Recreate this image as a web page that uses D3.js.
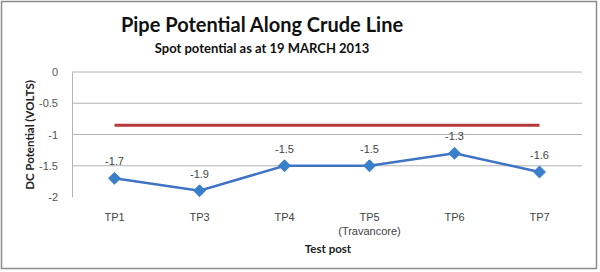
<!DOCTYPE html>
<html>
<head>
<meta charset="utf-8">
<script src="https://cdn.jsdelivr.net/npm/d3@7"></script>
<style>
  body { margin: 0; background: #fff; }
  svg { display: block; font-family: Lato, "Open Sans", sans-serif; }
</style>
</head>
<body>
<svg id="chart"></svg>
<script>
// chart data
const testPosts = ["TP1", "TP3", "TP4", "TP5", "TP6", "TP7"];
const subLabels = ["", "", "", "(Travancore)", "", ""];
const potential = [-1.7, -1.9, -1.5, -1.5, -1.3, -1.6];
const protectionLevel = [-0.85, -0.85, -0.85, -0.85, -0.85, -0.85];
const yTicks = [0, -0.5, -1, -1.5, -2];

const width = 600;
const height = 272;
const margin = { top: 72, right: 18, bottom: 75, left: 72 };

const svg = d3.select('#chart')
  .attr('width', width)
  .attr('height', height);

// outer frame
svg.append('rect')
  .attr('x', 1.5).attr('y', 1.5)
  .attr('width', 595).attr('height', 267)
  .attr('fill', 'none')
  .attr('stroke', '#8c8c8c')
  .attr('stroke-width', 1.5);

const xScale = d3.scaleBand()
  .domain(testPosts)
  .range([margin.left, width - margin.right]);

const yScale = d3.scaleLinear()
  .domain([-2, 0])
  .range([height - margin.bottom, margin.top]);

const cx = d => xScale(d) + xScale.bandwidth() / 2;

// gridlines
svg.append('g')
  .selectAll('line')
  .data(yTicks.filter(t => t > -2))
  .enter()
  .append('line')
  .attr('x1', margin.left)
  .attr('x2', width - margin.right)
  .attr('y1', d => yScale(d))
  .attr('y2', d => yScale(d))
  .attr('stroke', '#b4b4b4')
  .attr('stroke-width', 1);

// y axis
const yAxis = d3.axisLeft(yScale)
  .tickValues(yTicks)
  .tickFormat(d => d3.format('')(d).replace('−', '-'))
  .tickSize(0)
  .tickPadding(14);

const yg = svg.append('g')
  .attr('transform', `translate(${margin.left}, 0)`)
  .call(yAxis);
yg.select('.domain').attr('stroke', '#b4b4b4');
yg.selectAll('text')
  .attr('font-size', 11)
  .attr('fill', '#555')
  .attr('font-family', '"Liberation Sans", sans-serif');

// category labels
const labels = svg.append('g');
labels.selectAll('.cat')
  .data(testPosts)
  .enter()
  .append('text')
  .attr('x', d => cx(d))
  .attr('y', 221)
  .attr('text-anchor', 'middle')
  .attr('font-size', 11)
  .attr('fill', '#444')
  .attr('font-family', '"Liberation Sans", sans-serif')
  .text(d => d);
labels.selectAll('.sub')
  .data(testPosts)
  .enter()
  .append('text')
  .attr('x', d => cx(d))
  .attr('y', 235)
  .attr('text-anchor', 'middle')
  .attr('font-size', 11)
  .attr('fill', '#444')
  .attr('font-family', '"Liberation Sans", sans-serif')
  .text((d, i) => subLabels[i]);

// protection level line
const redLine = d3.line()
  .x((d, i) => cx(testPosts[i]))
  .y(d => yScale(d));

svg.append('path')
  .datum(protectionLevel)
  .attr('d', redLine)
  .attr('fill', 'none')
  .attr('stroke', '#b73a3a')
  .attr('stroke-width', 3);

// potential line
svg.append('path')
  .datum(potential)
  .attr('d', redLine)
  .attr('fill', 'none')
  .attr('stroke', '#3f73c4')
  .attr('stroke-width', 2.5);

svg.append('g')
  .selectAll('path')
  .data(potential)
  .enter()
  .append('path')
  .attr('transform', (d, i) => `translate(${cx(testPosts[i])}, ${yScale(d)})`)
  .attr('d', d3.symbol().type(d3.symbolDiamond2).size(90))
  .attr('fill', '#3a7fca')
  .attr('stroke', '#3a7fca')
  .attr('stroke-width', 1);

// data labels
svg.append('g')
  .selectAll('text')
  .data(potential)
  .enter()
  .append('text')
  .attr('x', (d, i) => cx(testPosts[i]))
  .attr('y', d => yScale(d) - 13)
  .attr('text-anchor', 'middle')
  .attr('font-size', 11)
  .attr('fill', '#444')
  .attr('font-family', '"Liberation Sans", sans-serif')
  .text(d => d);

// titles
svg.append('text')
  .attr('x', 262).attr('y', 32)
  .attr('text-anchor', 'middle')
  .attr('font-size', 20)
  .attr('font-weight', 'bold')
  .attr('fill', '#111')
  .text('Pipe Potential Along Crude Line');

svg.append('text')
  .attr('x', 262).attr('y', 53)
  .attr('text-anchor', 'middle')
  .attr('font-size', 13)
  .attr('font-weight', 'bold')
  .attr('fill', '#111')
  .text('Spot potential as at 19 MARCH 2013');

svg.append('text')
  .attr('x', 328).attr('y', 253)
  .attr('text-anchor', 'middle')
  .attr('font-size', 11.5)
  .attr('font-weight', 'bold')
  .attr('fill', '#222')
  .text('Test post');

svg.append('text')
  .attr('transform', 'translate(34, 135) rotate(-90)')
  .attr('text-anchor', 'middle')
  .attr('font-size', 11.5)
  .attr('font-weight', 'bold')
  .attr('fill', '#222')
  .text('DC Potential (VOLTS)');
</script>
</body>
</html>
